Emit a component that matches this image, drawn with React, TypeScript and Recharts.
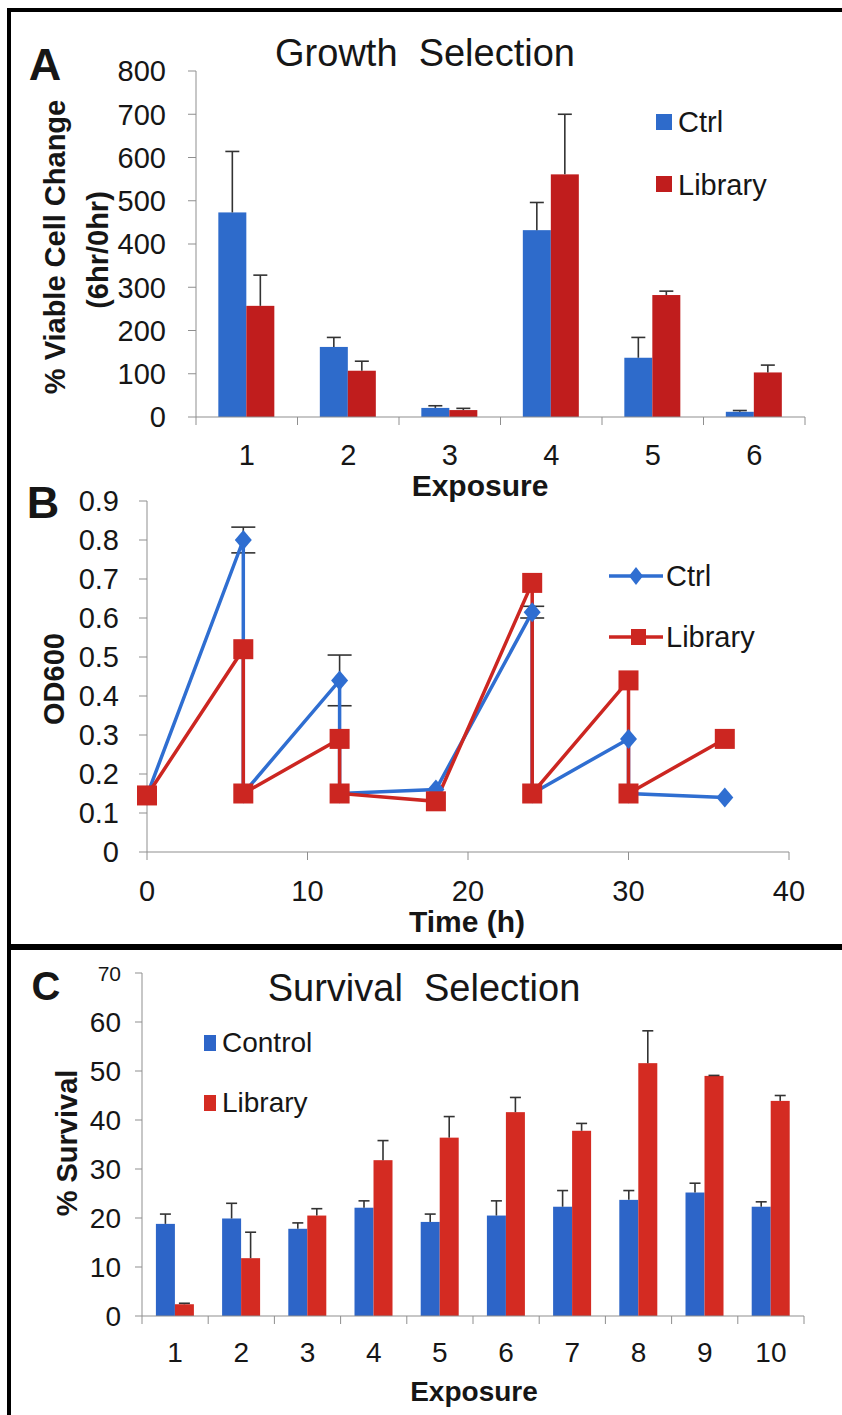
import React from "react";
import { BarChart, Bar, LineChart, Line, XAxis, YAxis, ErrorBar } from "recharts";

const FONT = '"Liberation Sans", Arial, Helvetica, sans-serif';
const TEXT = "#161616";
const AXIS = "#8f8f8f";
const ERR = "#333333";

// Panel A: growth selection, % viable cell change per exposure
const exposuresA = ["1", "2", "3", "4", "5", "6"];
const ctrlA = [473, 162, 21, 432, 137, 12];
const ctrlErrA = [141, 22, 5, 64, 47, 3];
const libA = [257, 107, 16, 561, 282, 103];
const libErrA = [71, 22, 4, 139, 9, 17];
const ticksA = [0, 100, 200, 300, 400, 500, 600, 700, 800];

// Panel B: OD600 over time (drops are dilutions at each exposure)
const ctrlTime = [0, 6, 6, 12, 12, 18, 24, 24, 30, 30, 36];
const ctrlOD = [0.145, 0.8, 0.15, 0.44, 0.15, 0.16, 0.615, 0.15, 0.29, 0.15, 0.14];
const ctrlODErr = [0, 0.033, 0, 0.065, 0, 0, 0.015, 0, 0, 0, 0];
const libTime = [0, 6, 6, 12, 12, 18, 24, 24, 30, 30, 36];
const libOD = [0.145, 0.52, 0.15, 0.29, 0.15, 0.13, 0.69, 0.15, 0.44, 0.15, 0.29];
const ticksBX = [0, 10, 20, 30, 40];
const ticksBY = [0, 0.1, 0.2, 0.3, 0.4, 0.5, 0.6, 0.7, 0.8, 0.9];

// Panel C: survival selection
const exposuresC = ["1", "2", "3", "4", "5", "6", "7", "8", "9", "10"];
const ctrlC = [18.8, 19.9, 17.8, 22.1, 19.2, 20.5, 22.3, 23.7, 25.2, 22.3];
const ctrlErrC = [2.0, 3.1, 1.2, 1.4, 1.6, 3.0, 3.3, 1.9, 1.9, 1.0];
const libC = [2.4, 11.8, 20.5, 31.8, 36.4, 41.6, 37.8, 51.6, 49.0, 43.9];
const libErrC = [0.2, 5.3, 1.4, 4.0, 4.3, 3.0, 1.5, 6.6, 0.1, 1.1];
const ticksC = [0, 10, 20, 30, 40, 50, 60, 70];

const dataA = exposuresA.map((e, i) => ({ exposure: e, ctrl: ctrlA[i], ctrlErr: ctrlErrA[i], lib: libA[i], libErr: libErrA[i] }));
const dataC = exposuresC.map((e, i) => ({ exposure: e, ctrl: ctrlC[i], ctrlErr: ctrlErrC[i], lib: libC[i], libErr: libErrC[i] }));
const ctrlLine = ctrlTime.map((t, i) => ({ t, od: ctrlOD[i], err: ctrlODErr[i] }));
const libLine = libTime.map((t, i) => ({ t, od: libOD[i] }));

// bar with an upward-only error whisker, scaled from the bar's own pixel height
const errBar = (valKey: string, errKey: string, cap: number) => (props: any) => {
  const { x, y, width, height, fill, payload } = props;
  const v = payload[valKey];
  const pxPer = v ? height / v : 0;
  const top = y - payload[errKey] * pxPer;
  const cx = x + width / 2;
  return (
    <g>
      <rect x={x} y={y} width={width} height={height} fill={fill} />
      <line x1={cx} x2={cx} y1={y} y2={top} stroke={ERR} strokeWidth={1.6} />
      <line x1={cx - cap / 2} x2={cx + cap / 2} y1={top} y2={top} stroke={ERR} strokeWidth={1.6} />
    </g>
  );
};

// category tick: label at centre, tick marks at category boundaries (Excel style)
const catTick = (half: number, dy: number, fontSize: number) => (p: any) => (
  <g>
    <line x1={p.x + half} x2={p.x + half} y1={p.y} y2={p.y + 8} stroke={AXIS} />
    {p.index === 0 && <line x1={p.x - half} x2={p.x - half} y1={p.y} y2={p.y + 8} stroke={AXIS} />}
    <text x={p.x} y={p.y + dy} textAnchor="middle" dominantBaseline="central" fontSize={fontSize} fill={TEXT} fontFamily={FONT}>
      {p.payload.value}
    </text>
  </g>
);

const Diamond = (p: any) => {
  const { cx, cy, index } = p;
  return <path key={`d-${index}`} d={`M${cx},${cy - 10}L${cx + 8.5},${cy}L${cx},${cy + 10}L${cx - 8.5},${cy}Z`} fill="#2F6ED1" />;
};
const Square = (p: any) => {
  const { cx, cy, index } = p;
  return <rect key={`s-${index}`} x={cx - 10} y={cy - 10} width={20} height={20} fill="#CC2621" />;
};

const Abs = ({ x, y, children, style }: any) => (
  <div style={{ position: "absolute", left: x, top: y, transform: "translate(0,-50%)", whiteSpace: "pre", lineHeight: 1, ...style }}>{children}</div>
);
const Center = ({ x, y, children, style }: any) => (
  <div style={{ position: "absolute", left: x, top: y, transform: "translate(-50%,-50%)", whiteSpace: "pre", lineHeight: 1, ...style }}>{children}</div>
);
const VText = ({ x, y, children, style }: any) => (
  <div style={{ position: "absolute", left: x, top: y, transform: "translate(-50%,-50%) rotate(-90deg)", whiteSpace: "pre", lineHeight: 1, fontWeight: 700, fontSize: 29, ...style }}>{children}</div>
);
const Swatch = ({ x, y, w, h, color }: any) => (
  <div style={{ position: "absolute", left: x, top: y, width: w, height: h, background: color }} />
);
const LineKey = ({ x, y, color, marker }: any) => (
  <svg style={{ position: "absolute", left: x, top: y - 12 }} width={56} height={24}>
    <line x1={0} x2={54} y1={12} y2={12} stroke={color} strokeWidth={3.5} />
    {marker === "diamond" ? (
      <path d="M27,3L34,12L27,21L20,12Z" fill={color} />
    ) : (
      <rect x={22} y={4} width={15} height={16} fill={color} />
    )}
  </svg>
);

export default function App() {
  const yTick = { fontSize: 29, fill: TEXT, fontFamily: FONT };
  return (
    <div style={{ position: "absolute", left: 0, top: 0, width: 842, height: 1415, background: "#fff", fontFamily: FONT, color: TEXT, overflow: "hidden" }}>
      {/* frame lines */}
      <div style={{ position: "absolute", left: 7, top: 8, width: 835, height: 4, background: "#000" }} />
      <div style={{ position: "absolute", left: 7, top: 8, width: 4, height: 1407, background: "#000" }} />
      <div style={{ position: "absolute", left: 7, top: 944, width: 835, height: 6, background: "#000" }} />

      {/* Panel A */}
      <div style={{ position: "absolute", left: 0, top: 0 }}>
        <BarChart width={842} height={500} data={dataA} margin={{ top: 71, right: 37, bottom: 53, left: 136 }} barCategoryGap="22%" barGap={0}>
          <XAxis dataKey="exposure" height={30} interval={0} tickSize={0} tickMargin={0} axisLine={{ stroke: AXIS }} tickLine={false} tick={catTick(50.75, 38, 29)} />
          <YAxis width={60} domain={[0, 800]} ticks={ticksA} interval={0} tickSize={8} tickMargin={22} axisLine={{ stroke: AXIS }} tickLine={{ stroke: AXIS }} tick={yTick} />
          <Bar dataKey="ctrl" fill="#2E6BCB" isAnimationActive={false} shape={errBar("ctrl", "ctrlErr", 14)} />
          <Bar dataKey="lib" fill="#C01D1D" isAnimationActive={false} shape={errBar("lib", "libErr", 14)} />
        </BarChart>
      </div>
      <Center x={45} y={64} style={{ fontSize: 45, fontWeight: 700 }}>A</Center>
      <Center x={425} y={53} style={{ fontSize: 38 }}>{"Growth  Selection"}</Center>
      <VText x={55} y={247}>% Viable Cell Change</VText>
      <VText x={98} y={250}>(6hr/0hr)</VText>
      <Center x={480} y={486} style={{ fontSize: 30, fontWeight: 700 }}>Exposure</Center>
      <Swatch x={656} y={114} w={16} h={16} color="#2E6BCB" />
      <Abs x={678} y={122} style={{ fontSize: 29 }}>Ctrl</Abs>
      <Swatch x={656} y={176} w={16} h={16} color="#C01D1D" />
      <Abs x={678} y={185} style={{ fontSize: 29 }}>Library</Abs>

      {/* Panel B */}
      <div style={{ position: "absolute", left: 0, top: 470 }}>
        <LineChart width={842} height={475} margin={{ top: 31, right: 53, bottom: 53, left: 87 }}>
          <XAxis type="number" dataKey="t" domain={[0, 40]} ticks={ticksBX} interval={0} height={40} tickSize={8} tickMargin={20} axisLine={{ stroke: AXIS }} tickLine={{ stroke: AXIS }} tick={yTick} allowDuplicatedCategory />
          <YAxis width={60} domain={[0, 0.9]} ticks={ticksBY} interval={0} tickSize={8} tickMargin={20} axisLine={{ stroke: AXIS }} tickLine={{ stroke: AXIS }} tick={yTick} tickFormatter={(v: number) => (v === 0 ? "0" : v.toFixed(1))} />
          <Line data={ctrlLine} dataKey="od" stroke="#2F6ED1" strokeWidth={3.5} dot={Diamond} activeDot={false} isAnimationActive={false}>
            <ErrorBar dataKey="err" direction="y" width={12} stroke={ERR} strokeWidth={1.6} />
          </Line>
          <Line data={libLine} dataKey="od" stroke="#CC2621" strokeWidth={3.5} dot={Square} activeDot={false} isAnimationActive={false} />
        </LineChart>
      </div>
      <Center x={43} y={502} style={{ fontSize: 45, fontWeight: 700 }}>B</Center>
      <VText x={54} y={679}>OD600</VText>
      <Center x={467} y={922} style={{ fontSize: 30, fontWeight: 700 }}>Time (h)</Center>
      <LineKey x={609} y={576} color="#2F6ED1" marker="diamond" />
      <Abs x={666} y={576} style={{ fontSize: 29 }}>Ctrl</Abs>
      <LineKey x={609} y={637} color="#CC2621" marker="square" />
      <Abs x={666} y={637} style={{ fontSize: 29 }}>Library</Abs>

      {/* Panel C */}
      <div style={{ position: "absolute", left: 0, top: 945 }}>
        <BarChart width={842} height={470} data={dataC} margin={{ top: 28, right: 38, bottom: 59, left: 82 }} barCategoryGap="21%" barGap={0}>
          <XAxis dataKey="exposure" height={40} interval={0} tickSize={0} tickMargin={0} axisLine={{ stroke: AXIS }} tickLine={false} tick={catTick(33.1, 36, 28)} />
          <YAxis width={60} domain={[0, 70]} ticks={ticksC} interval={0} tickSize={7} tickMargin={14} axisLine={{ stroke: AXIS }} tickLine={{ stroke: AXIS }}
            tick={(p: any) => (
              <text x={p.x} y={p.y} textAnchor="end" dominantBaseline="central" fontSize={p.payload.value === 70 ? 21 : 28} fill={TEXT} fontFamily={FONT}>
                {p.payload.value}
              </text>
            )}
          />
          <Bar dataKey="ctrl" fill="#2D65C8" isAnimationActive={false} shape={errBar("ctrl", "ctrlErr", 11)} />
          <Bar dataKey="lib" fill="#D42B22" isAnimationActive={false} shape={errBar("lib", "libErr", 11)} />
        </BarChart>
      </div>
      <Center x={46} y={986} style={{ fontSize: 40, fontWeight: 700 }}>C</Center>
      <Center x={424} y={988} style={{ fontSize: 38 }}>{"Survival  Selection"}</Center>
      <VText x={67} y={1143}>% Survival</VText>
      <Center x={474} y={1392} style={{ fontSize: 28, fontWeight: 700 }}>Exposure</Center>
      <Swatch x={204} y={1035} w={12} h={16} color="#2D65C8" />
      <Abs x={222} y={1043} style={{ fontSize: 28 }}>Control</Abs>
      <Swatch x={204} y={1095} w={12} h={16} color="#D42B22" />
      <Abs x={222} y={1103} style={{ fontSize: 28 }}>Library</Abs>
    </div>
  );
}
